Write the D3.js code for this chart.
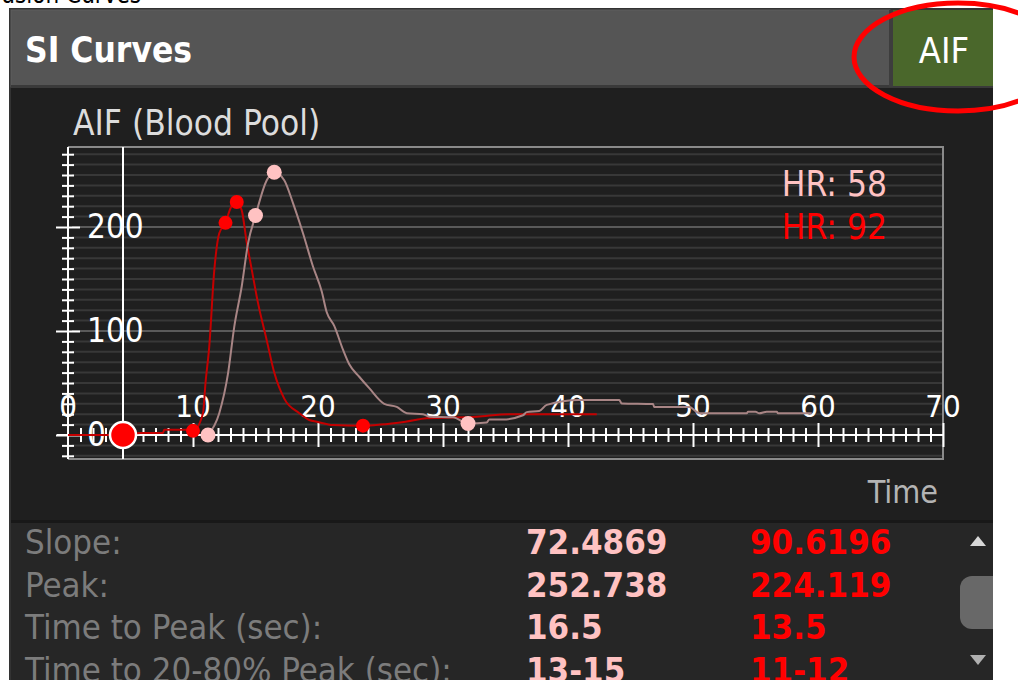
<!DOCTYPE html>
<html>
<head>
<meta charset="utf-8">
<script src="https://cdn.jsdelivr.net/npm/d3@7"></script>
<style>
  html, body { margin: 0; padding: 0; background: #ffffff; }
  svg { display: block; }
  text { font-family: 'DejaVu Sans Condensed', 'DejaVu Sans', sans-serif; font-stretch: condensed; }
</style>
</head>
<body>
<svg id="chart" width="1018" height="680"></svg>
<script>
// ---- data -------------------------------------------------------------
// AIF signal intensity curves (time in s, signal in a.u.)
const hr58Time   = [11.2, 12.1, 12.8, 13.3, 13.9, 14.4, 15.0, 15.9, 16.5, 17.3, 18.0, 18.8, 19.6, 20.3, 20.7, 21.3, 22.0, 22.5, 23.3, 24.1, 25.3, 26.3, 27.1, 28.4, 28.9, 30.8, 32.0, 33.5, 33.7, 34.8, 36.4, 36.7, 37.7, 38.3, 40.9, 44.1, 44.3, 46.8, 46.9, 49.7, 50.5, 54.3, 54.4, 55.0, 55.3, 55.9, 56.7, 56.8, 59.5];
const hr58Signal = [0, 21, 59, 104, 143, 184, 211, 245, 252.7, 245, 223, 194, 162, 138, 118, 105, 82, 68, 56, 45, 30, 27, 21, 20, 17.6, 17, 11, 12, 15, 15, 19, 22, 23, 29, 33.6, 33.6, 30.4, 29.8, 27, 27, 21, 21, 22.4, 22.4, 20.8, 22.4, 22.4, 20.8, 20.8];

const hr92Time   = [0, 4.4, 5.8, 7.6, 7.7, 9.6, 10.0, 10.8, 11.0, 11.3, 11.7, 12.1, 12.6, 13.0, 13.5, 13.9, 14.3, 14.7, 15.2, 15.9, 16.5, 17.3, 18.5, 19.3, 19.9, 21.2, 23.6, 25.0, 27.0, 28.7, 32.7, 35.3, 38.0, 42.3];
const hr92Signal = [0, 0, 2, 2, 5, 5, 4, 21, 50, 85, 158, 194, 204, 218, 224.1, 216, 185, 159, 127, 91, 60, 35, 21, 14.4, 12.8, 9.6, 9, 10, 12.8, 16, 17.6, 20, 20, 20];

// key points marked on each curve
const hr58MarkerTime   = [11.2, 15.0, 16.5, 32.0];
const hr58MarkerSignal = [0, 211, 252.7, 11];
const hr92MarkerTime   = [10.0, 12.6, 13.5, 23.6];
const hr92MarkerSignal = [4, 204, 224.1, 9];
const baselineTime = 4.4;

// axes
const xTickLabels = [0, 10, 20, 30, 40, 50, 60, 70];
const yTickLabels = [0, 100, 200];
const xDomain = [0, 70];
const yFrameDomain = [-23, 277];

// legend and statistics table
const legendLabels = ["HR: 58", "HR: 92"];
const statLabels = ["Slope:", "Peak:", "Time to Peak (sec):", "Time to 20-80% Peak (sec):"];
const hr58Stats = ["72.4869", "252.738", "16.5", "13-15"];
const hr92Stats = ["90.6196", "224.119", "13.5", "11-12"];

// ---- drawing ----------------------------------------------------------
const PINK = "#ffc2c2", PINK_LINE = "#a88585", RED = "#ff0000", RED_LINE = "#c40000";
const svg = d3.select("#chart");

// page caption cut off at the top
svg.append("text").attr("x", 141).attr("y", 3).attr("text-anchor", "end")
  .attr("font-size", 24).attr("fill", "#000").text("Perfusion Curves");

// panel
svg.append("rect").attr("x", 9).attr("y", 8).attr("width", 984).attr("height", 672).attr("fill", "#333");
svg.append("rect").attr("x", 11).attr("y", 88).attr("width", 982).attr("height", 433).attr("fill", "#1f1f1f");
svg.append("rect").attr("x", 11).attr("y", 523).attr("width", 982).attr("height", 157).attr("fill", "#262626");
svg.append("rect").attr("x", 11).attr("y", 520).attr("width", 982).attr("height", 3).attr("fill", "#181818");

// header
svg.append("rect").attr("x", 11).attr("y", 10).attr("width", 879).attr("height", 77).attr("fill", "#555555")
  .attr("stroke", "#5e5e5e").attr("stroke-width", 1);
svg.append("rect").attr("x", 11).attr("y", 85).attr("width", 982).attr("height", 3).attr("fill", "#3a3a3a");
svg.append("rect").attr("x", 889).attr("y", 10).attr("width", 4).attr("height", 77).attr("fill", "#3d3d3d");
svg.append("rect").attr("x", 893).attr("y", 10).attr("width", 100).attr("height", 76).attr("fill", "#4a672b");
svg.append("text").attr("x", 25).attr("y", 62).attr("font-size", 35).attr("font-weight", "bold")
  .attr("fill", "#ffffff").text("SI Curves");
svg.append("text").attr("x", 944).attr("y", 63).attr("text-anchor", "middle").attr("font-size", 36)
  .attr("fill", "#ffffff").text("AIF");

// scales
const x = d3.scaleLinear().domain(xDomain).range([68, 943]);
const y = d3.scaleLinear().domain([0, 200]).range([435, 227]);
const yTop = y(yFrameDomain[1]), yBottom = y(yFrameDomain[0]);

svg.append("text").attr("x", 73).attr("y", 135).attr("font-size", 35).attr("fill", "#dcdcdc")
  .text("AIF (Blood Pool)");

// horizontal grid
const grid = d3.range(-20, 271, 10);
svg.append("g").selectAll("line").data(grid).join("line")
  .attr("x1", x(0) + 4).attr("x2", x(70))
  .attr("y1", d => y(d)).attr("y2", d => y(d))
  .attr("stroke", d => d % 100 === 0 ? "#5a5a5a" : "#383838").attr("stroke-width", 2);

// frame
svg.append("path")
  .attr("d", `M${x(0)},${yTop}H${x(70)}V${yBottom}H${x(0)}`)
  .attr("fill", "none").attr("stroke", "#8a8a8a").attr("stroke-width", 2);

// y axis (ticks crossing the line)
const yAxis = svg.append("g").attr("transform", `translate(${x(0)},0)`)
  .call(d3.axisLeft(y).tickValues(grid).tickFormat("").tickSizeOuter(0));
yAxis.select(".domain").attr("d", `M0,${yTop}V${yBottom}`).attr("stroke", "#fff").attr("stroke-width", 2);
yAxis.selectAll(".tick line")
  .attr("x1", d => d % 100 === 0 ? -12 : -6).attr("x2", d => d % 100 === 0 ? 12 : 6)
  .attr("stroke", "#fff").attr("stroke-width", 2);

// x axis
const xAxis = svg.append("g").attr("transform", `translate(0,${y(0)})`)
  .call(d3.axisBottom(x).tickValues(d3.range(1, 71, 1)).tickFormat("").tickSizeOuter(0));
xAxis.select(".domain").attr("d", `M${x(0) - 11},0H${x(70)}`).attr("stroke", "#fff").attr("stroke-width", 2);
xAxis.selectAll(".tick line")
  .attr("y1", d => d % 10 === 0 ? -12 : -7).attr("y2", d => d % 10 === 0 ? 12 : 7)
  .attr("stroke", "#fff").attr("stroke-width", 2);

// baseline marker line
svg.append("line").attr("x1", x(baselineTime)).attr("x2", x(baselineTime))
  .attr("y1", yTop).attr("y2", yBottom).attr("stroke", "#fff").attr("stroke-width", 2);

// tick labels
svg.append("g").selectAll("text").data(xTickLabels).join("text")
  .attr("x", d => x(d)).attr("y", y(0) - 18).attr("text-anchor", "middle")
  .attr("font-size", 31).attr("fill", "#ffffff").text(d => d);
svg.append("g").selectAll("text").data(yTickLabels).join("text")
  .attr("x", x(0) + 19).attr("y", d => y(d) + 11)
  .attr("font-size", 33).attr("fill", "#ffffff").text(d => d);

// curves
const line = d3.line().x(d => x(d[0])).y(d => y(d[1])).curve(d3.curveMonotoneX);
const hr92 = d3.zip(hr92Time, hr92Signal);
const hr58 = d3.zip(hr58Time, hr58Signal);
svg.append("path").datum(hr92).attr("d", line).attr("fill", "none")
  .attr("stroke", RED_LINE).attr("stroke-width", 2);
svg.append("path").datum(hr58).attr("d", line).attr("fill", "none")
  .attr("stroke", PINK_LINE).attr("stroke-width", 2);

svg.append("g").selectAll("circle").data(d3.zip(hr92MarkerTime, hr92MarkerSignal)).join("circle")
  .attr("cx", d => x(d[0])).attr("cy", d => y(d[1])).attr("r", 7).attr("fill", RED);
svg.append("g").selectAll("circle").data(d3.zip(hr58MarkerTime, hr58MarkerSignal)).join("circle")
  .attr("cx", d => x(d[0])).attr("cy", d => y(d[1])).attr("r", 7.5).attr("fill", PINK);

svg.append("circle").attr("cx", x(baselineTime)).attr("cy", y(0)).attr("r", 13)
  .attr("fill", RED).attr("stroke", "#fff").attr("stroke-width", 2.5);

// legend
svg.append("g").selectAll("text").data(legendLabels).join("text")
  .attr("x", 887).attr("y", (d, i) => 196 + i * 43).attr("text-anchor", "end")
  .attr("font-size", 35).attr("fill", (d, i) => i === 0 ? PINK : RED).text(d => d);

svg.append("text").attr("x", 938).attr("y", 503).attr("text-anchor", "end")
  .attr("font-size", 32).attr("fill", "#b4b4b4").text("Time");

// statistics table
const rowY = i => 554 + i * 42.7;
svg.append("g").selectAll("text").data(statLabels).join("text")
  .attr("x", 25).attr("y", (d, i) => rowY(i)).attr("font-size", 34.5).attr("fill", "#7c7c7c").text(d => d);
svg.append("g").selectAll("text").data(hr58Stats).join("text")
  .attr("x", 526).attr("y", (d, i) => rowY(i)).attr("font-size", 34.5).attr("font-weight", "bold")
  .attr("fill", PINK).text(d => d);
svg.append("g").selectAll("text").data(hr92Stats).join("text")
  .attr("x", 750).attr("y", (d, i) => rowY(i)).attr("font-size", 34.5).attr("font-weight", "bold")
  .attr("fill", RED).text(d => d);

// scrollbar
svg.append("path").attr("d", "M970,546L978,536L986,546Z").attr("fill", "#d8d8d8");
svg.append("rect").attr("x", 960).attr("y", 576).attr("width", 50).attr("height", 53).attr("rx", 12)
  .attr("fill", "#686868");
svg.append("path").attr("d", "M970,655L978,665L986,655Z").attr("fill", "#b0b0b0");
svg.append("rect").attr("x", 993).attr("y", 0).attr("width", 25).attr("height", 680).attr("fill", "#ffffff");

// highlight ring around the AIF button
svg.append("ellipse").attr("cx", 958).attr("cy", 57).attr("rx", 104).attr("ry", 54)
  .attr("fill", "none").attr("stroke", "#ff0000").attr("stroke-width", 5);
</script>
</body>
</html>
